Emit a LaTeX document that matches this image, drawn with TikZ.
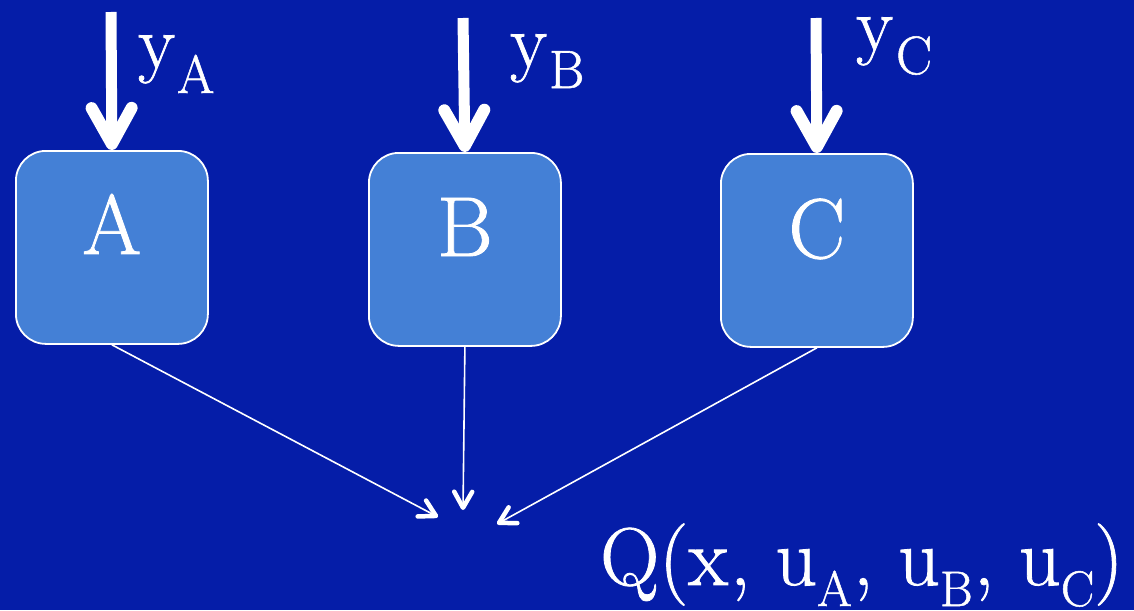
\documentclass[tikz,border=0pt]{standalone}
\usepackage{fontspec}
\newfontfamily\tms{Latin Modern Roman}[UprightFeatures={FakeBold=1.0}]
\usetikzlibrary{arrows.meta}
\definecolor{bgblue}{RGB}{5,29,168}
\definecolor{boxblue}{RGB}{68,128,214}
\tikzset{
  box/.style={draw=white, line width=1.8pt, fill=boxblue, rounded corners=30pt,
    minimum width=192pt, minimum height=193pt, inner sep=0pt, anchor=north west},
  letter/.style={text=white, font=\tms\fontsize{85}{85}\selectfont, inner sep=0pt, anchor=base},
  lbl/.style={text=white, font=\tms\fontsize{76}{76}\selectfont, inner sep=0pt, anchor=base west},
  qlbl/.style={text=white, font=\tms\fontsize{82}{82}\selectfont, inner sep=0pt, anchor=base west},
  bigarrow/.style={white, line width=11pt,
    -{Straight Barb[length=36pt, width=40pt, line width=12pt, round]}},
  thinarrow/.style={white, line width=1.6pt,
    -{Straight Barb[length=16pt, width=18pt, line width=4.5pt, round]}}
}
\newcommand{\sbl}[2]{\raisebox{-#1pt}{\tms\fontsize{54}{54}\selectfont #2}}
\newcommand{\sbq}[1]{\raisebox{-21pt}{\tms\fontsize{50}{50}\selectfont #1}}
\begin{document}
\begin{tikzpicture}[x=1pt, y=-1pt]
  \fill[bgblue] (0,0) rectangle (1134,610);
  \useasboundingbox (0,0) rectangle (1134,610);

  \node[box] (boxA) at (15,150) {};
  \node[box] (boxB) at (368,152) {};
  \node[box] (boxC) at (720,153) {};

  \node[letter] (letA) at ([yshift=-104pt]boxA.north) {A};
  \node[letter] (letB) at ([yshift=-104pt]boxB.north) {B};
  \node[letter] (letC) at ([yshift=-105pt]boxC.north) {C};

  \coordinate (topA) at (111,12);
  \coordinate (topB) at (463,18);
  \coordinate (topC) at (816,18);
  \draw[bigarrow] (topA) -- (boxA.north);
  \draw[bigarrow] (topB) -- (boxB.north);
  \draw[bigarrow] (topC) -- (boxC.north);

  \node[lbl] (yA) at (138,68) {y\kern2pt\sbl{25}{A}};
  \node[lbl] (yB) at (510,67) {y\kern2pt\sbl{21}{B}};
  \node[lbl] (yC) at (856,50) {y\kern3pt\sbl{24}{C}};

  \coordinate (endA) at (438,517);
  \coordinate (endB) at (463,510);
  \coordinate (endC) at (497,524);
  \draw[thinarrow] (boxA.south) -- (endA);
  \draw[thinarrow] (boxB.south) -- (endB);
  \draw[thinarrow] (boxC.south) -- (endC);

  \node[qlbl] (Q) at (600,585) {Q(x\kern2pt, u\sbq{A}\kern1pt, u\sbq{B}\kern1pt, u\sbq{C})};
\end{tikzpicture}
\end{document}
